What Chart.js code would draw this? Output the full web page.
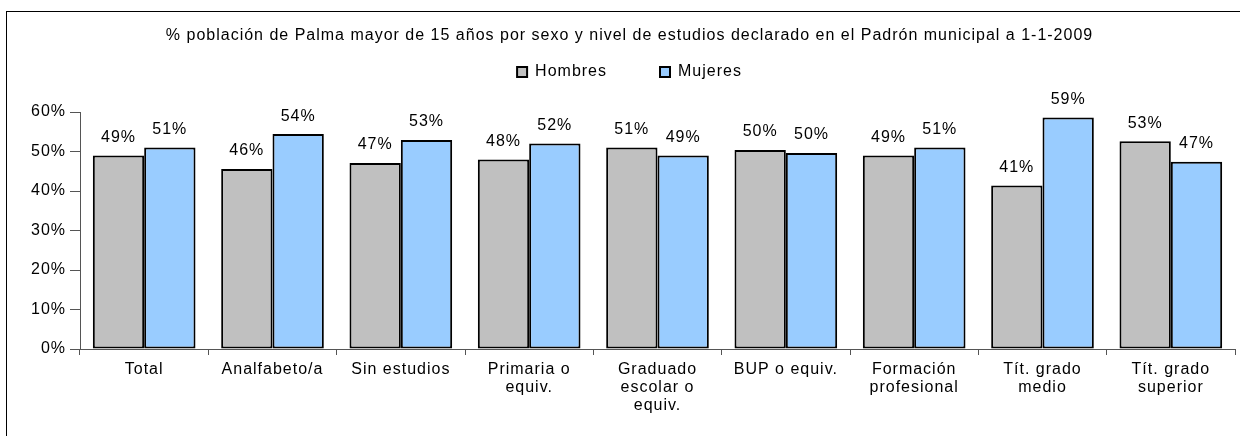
<!DOCTYPE html>
<html>
<head>
<meta charset="utf-8">
<script src="https://cdn.jsdelivr.net/npm/chart.js"></script>
<style>
  html, body { margin: 0; padding: 0; background: #fff; }
  #wrap { width: 1240px; height: 436px; position: relative; }
</style>
</head>
<body>
<div id="wrap"><canvas id="chart"></canvas></div>
<script>
// Data
const categories = [
  'Total',
  'Analfabeto/a',
  'Sin estudios',
  ['Primaria o', 'equiv.'],
  ['Graduado', 'escolar o', 'equiv.'],
  'BUP o equiv.',
  ['Formación', 'profesional'],
  ['Tít. grado', 'medio'],
  ['Tít. grado', 'superior']
];
const hombres = [49.0, 45.6, 47.1, 48.0, 51.0, 50.4, 49.0, 41.4, 52.6];
const mujeres = [51.0, 54.4, 52.9, 52.0, 49.0, 49.6, 51.0, 58.6, 47.4];
const yTicks = [0, 10, 20, 30, 40, 50, 60];
const titleText = '% población de Palma mayor de 15 años por sexo y nivel de estudios declarado en el Padrón municipal a 1-1-2009';

const FONT = "'Liberation Sans', Arial, sans-serif";
const SPACING = '1px';

// letter spacing to mimic the spread-out Excel text
const spacingPlugin = {
  id: 'spacing',
  beforeUpdate(chart) { chart.ctx.letterSpacing = SPACING; },
  beforeDraw(chart) { chart.ctx.letterSpacing = SPACING; }
};

// outer frame of the chart object
const framePlugin = {
  id: 'frame',
  beforeDraw(chart) {
    const ctx = chart.ctx;
    ctx.save();
    ctx.fillStyle = '#fff';
    ctx.fillRect(0, 0, chart.width, chart.height);
    ctx.strokeStyle = '#000';
    ctx.lineWidth = 1;
    ctx.strokeRect(6.5, 11.5, chart.width + 20, chart.height + 20);
    ctx.restore();
  }
};

// value labels above each bar
const valueLabels = {
  id: 'valueLabels',
  afterDatasetsDraw(chart) {
    const ctx = chart.ctx;
    ctx.save();
    ctx.font = '16px ' + FONT;
    ctx.letterSpacing = SPACING;
    ctx.fillStyle = '#000';
    ctx.textAlign = 'center';
    ctx.textBaseline = 'middle';
    chart.data.datasets.forEach((ds, i) => {
      chart.getDatasetMeta(i).data.forEach((bar, j) => {
        ctx.fillText(Math.round(ds.data[j]) + '%', bar.x, bar.y - 18);
      });
    });
    ctx.restore();
  }
};

new Chart(document.getElementById('chart'), {
  type: 'bar',
  data: {
    labels: categories,
    datasets: [
      {
        label: 'Hombres',
        data: hombres,
        backgroundColor: '#C0C0C0',
        borderColor: '#000',
        borderWidth: 2,
        borderSkipped: false
      },
      {
        label: 'Mujeres',
        data: mujeres,
        backgroundColor: '#99CCFF',
        borderColor: '#000',
        borderWidth: 2,
        borderSkipped: false
      }
    ]
  },
  options: {
    responsive: true,
    maintainAspectRatio: false,
    animation: false,
    datasets: {
      bar: { categoryPercentage: 0.8, barPercentage: 1.0 }
    },
    layout: {
      padding: { left: 24, right: 5, top: 0, bottom: 0 }
    },
    scales: {
      x: {
        grid: {
          offset: true,
          drawOnChartArea: false,
          drawTicks: true,
          tickLength: 6,
          color: '#555'
        },
        border: { color: '#555', width: 1 },
        ticks: {
          color: '#000',
          font: { family: FONT, size: 16, lineHeight: 1.15 },
          padding: 5,
          maxRotation: 0,
          autoSkip: false
        },
        afterFit(scale) { scale.height = 87; }
      },
      // empty top axis: only keeps the gap between legend and plot
      xTop: {
        type: 'category',
        position: 'top',
        grid: { display: false },
        border: { display: false },
        ticks: { display: false },
        afterFit(scale) { scale.height = 22; }
      },
      y: {
        min: 0,
        max: 60,
        afterBuildTicks(scale) { scale.ticks = yTicks.map(v => ({ value: v })); },
        grid: {
          drawOnChartArea: false,
          drawTicks: true,
          tickLength: 10,
          color: '#555'
        },
        border: { color: '#555', width: 1 },
        ticks: {
          color: '#000',
          font: { family: FONT, size: 16 },
          padding: 4,
          callback: v => v + '%'
        },
        afterFit(scale) { scale.width = 56; }
      }
    },
    plugins: {
      title: {
        display: true,
        text: titleText,
        color: '#000',
        font: { family: FONT, size: 16, weight: 'normal' },
        padding: { top: 26, bottom: -34.2 }
      },
      legend: {
        display: true,
        labels: {
          color: '#000',
          font: { family: FONT, size: 16 },
          boxWidth: 10,
          boxHeight: 10,
          padding: 53,
          generateLabels(chart) {
            return chart.data.datasets.map((ds, i) => ({
              text: ds.label,
              fillStyle: ds.backgroundColor,
              strokeStyle: '#000',
              lineWidth: 2,
              datasetIndex: i,
              hidden: false
            }));
          }
        }
      },
      tooltip: { enabled: false }
    }
  },
  plugins: [spacingPlugin, framePlugin, valueLabels]
});
</script>
</body>
</html>
